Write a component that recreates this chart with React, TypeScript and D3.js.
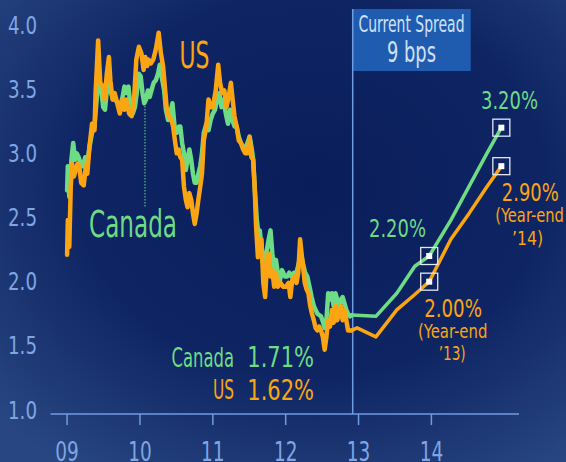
import React from "react";
import * as d3 from "d3";

const W = 566;
const H = 462;

// Canada 10-year yield (decimal year, %)
const canadaHistory: [number, number][] = [
  [2009.0, 2.71], [2009.01, 2.9], [2009.03, 2.66], [2009.059, 2.95], [2009.084, 3.08], [2009.109, 2.95],
  [2009.134, 3.0], [2009.158, 2.97], [2009.188, 2.92], [2009.218, 2.9], [2009.248, 2.97], [2009.277, 2.92],
  [2009.307, 3.05], [2009.342, 3.16], [2009.376, 3.21], [2009.406, 3.42], [2009.431, 3.57], [2009.465, 3.52],
  [2009.495, 3.36], [2009.52, 3.34], [2009.545, 3.49], [2009.574, 3.57], [2009.604, 3.47], [2009.634, 3.42],
  [2009.663, 3.42], [2009.693, 3.39], [2009.723, 3.36], [2009.762, 3.44], [2009.787, 3.52], [2009.812, 3.47],
  [2009.842, 3.52], [2009.871, 3.36], [2009.901, 3.31], [2009.931, 3.36], [2009.96, 3.49], [2009.985, 3.62],
  [2010.01, 3.6], [2010.035, 3.47], [2010.059, 3.39], [2010.084, 3.42], [2010.109, 3.49], [2010.134, 3.44],
  [2010.158, 3.49], [2010.188, 3.55], [2010.218, 3.57], [2010.248, 3.62], [2010.272, 3.69], [2010.297, 3.6],
  [2010.332, 3.49], [2010.356, 3.34], [2010.386, 3.26], [2010.416, 3.31], [2010.446, 3.39], [2010.475, 3.21],
  [2010.505, 3.16], [2010.535, 3.21], [2010.554, 3.21], [2010.579, 3.08], [2010.604, 3.0], [2010.629, 2.87],
  [2010.653, 2.95], [2010.678, 3.03], [2010.703, 2.95], [2010.728, 2.84], [2010.752, 2.77], [2010.777, 2.77],
  [2010.802, 2.84], [2010.827, 2.9], [2010.851, 3.0], [2010.876, 3.16], [2010.911, 3.23], [2010.941, 3.18],
  [2010.97, 3.26], [2011.0, 3.31], [2011.03, 3.34], [2011.059, 3.42], [2011.089, 3.47], [2011.119, 3.36],
  [2011.149, 3.42], [2011.178, 3.31], [2011.208, 3.23], [2011.238, 3.34], [2011.267, 3.26], [2011.297, 3.21],
  [2011.327, 3.21], [2011.356, 3.13], [2011.386, 3.08], [2011.416, 3.05], [2011.446, 3.03], [2011.475, 3.08],
  [2011.505, 3.13], [2011.53, 3.05], [2011.554, 2.95], [2011.574, 2.74], [2011.604, 2.48], [2011.624, 2.38],
  [2011.644, 2.4], [2011.668, 2.27], [2011.693, 2.12], [2011.718, 2.2], [2011.743, 2.25], [2011.767, 2.33],
  [2011.792, 2.4], [2011.817, 2.22], [2011.842, 2.09], [2011.866, 2.17], [2011.891, 2.07], [2011.921, 2.01],
  [2011.95, 2.09], [2011.99, 2.04], [2012.02, 2.04], [2012.05, 2.07], [2012.079, 2.04], [2012.114, 2.07],
  [2012.149, 2.07], [2012.178, 2.14], [2012.208, 2.22], [2012.238, 2.14], [2012.267, 2.07], [2012.297, 2.04],
  [2012.327, 1.96], [2012.356, 1.88], [2012.386, 1.81], [2012.411, 1.78], [2012.436, 1.75], [2012.46, 1.74],
  [2012.485, 1.73], [2012.51, 1.69], [2012.535, 1.64], [2012.559, 1.7], [2012.584, 1.91], [2012.609, 1.86],
  [2012.634, 1.91], [2012.658, 1.81], [2012.683, 1.91], [2012.708, 1.86], [2012.733, 1.81], [2012.757, 1.86],
  [2012.782, 1.88], [2012.807, 1.83], [2012.832, 1.78], [2012.856, 1.75], [2012.881, 1.73], [2012.906, 1.74],
];

// US 10-year yield (decimal year, %)
const usHistory: [number, number][] = [
  [2009.0, 2.21], [2009.01, 2.48], [2009.03, 2.27], [2009.05, 2.74], [2009.069, 2.92], [2009.094, 2.82],
  [2009.119, 2.87], [2009.144, 2.92], [2009.168, 2.9], [2009.193, 2.77], [2009.228, 2.75], [2009.257, 2.9],
  [2009.277, 2.84], [2009.307, 3.05], [2009.342, 3.23], [2009.376, 3.18], [2009.391, 3.47], [2009.426, 3.88],
  [2009.455, 3.55], [2009.49, 3.52], [2009.515, 3.42], [2009.545, 3.62], [2009.574, 3.75], [2009.594, 3.57],
  [2009.624, 3.42], [2009.653, 3.47], [2009.688, 3.39], [2009.723, 3.31], [2009.762, 3.42], [2009.787, 3.34],
  [2009.812, 3.42], [2009.851, 3.31], [2009.886, 3.29], [2009.921, 3.44], [2009.95, 3.73], [2009.985, 3.83],
  [2010.02, 3.78], [2010.05, 3.65], [2010.074, 3.75], [2010.099, 3.68], [2010.119, 3.73], [2010.149, 3.7],
  [2010.183, 3.73], [2010.218, 3.81], [2010.257, 3.94], [2010.287, 3.78], [2010.317, 3.68], [2010.337, 3.55],
  [2010.366, 3.36], [2010.396, 3.29], [2010.431, 3.26], [2010.455, 3.21], [2010.48, 3.1], [2010.505, 3.0],
  [2010.53, 3.03], [2010.554, 2.97], [2010.579, 2.95], [2010.604, 2.74], [2010.629, 2.64], [2010.653, 2.58],
  [2010.678, 2.69], [2010.703, 2.64], [2010.728, 2.53], [2010.752, 2.45], [2010.777, 2.53], [2010.802, 2.64],
  [2010.827, 2.74], [2010.851, 2.84], [2010.876, 3.1], [2010.911, 3.21], [2010.941, 3.42], [2010.97, 3.36],
  [2011.0, 3.36], [2011.04, 3.49], [2011.074, 3.69], [2011.099, 3.55], [2011.129, 3.47], [2011.158, 3.49],
  [2011.188, 3.36], [2011.218, 3.44], [2011.248, 3.55], [2011.272, 3.42], [2011.297, 3.29], [2011.327, 3.21],
  [2011.356, 3.1], [2011.386, 3.08], [2011.416, 3.03], [2011.446, 3.0], [2011.475, 3.0], [2011.505, 3.13],
  [2011.53, 2.97], [2011.554, 2.95], [2011.574, 2.74], [2011.594, 2.43], [2011.619, 2.19], [2011.644, 2.22],
  [2011.668, 2.33], [2011.693, 1.99], [2011.718, 1.88], [2011.743, 2.14], [2011.767, 2.22], [2011.792, 2.04],
  [2011.817, 2.09], [2011.842, 1.96], [2011.866, 2.07], [2011.891, 1.96], [2011.931, 1.99], [2011.965, 1.96],
  [2012.0, 1.96], [2012.04, 1.99], [2012.064, 1.88], [2012.089, 2.01], [2012.119, 2.04], [2012.149, 1.99],
  [2012.173, 2.07], [2012.198, 2.33], [2012.218, 2.22], [2012.238, 2.12], [2012.262, 1.99], [2012.287, 1.94],
  [2012.312, 1.91], [2012.337, 1.81], [2012.361, 1.75], [2012.386, 1.7], [2012.411, 1.64], [2012.436, 1.62],
  [2012.46, 1.65], [2012.485, 1.62], [2012.51, 1.57], [2012.535, 1.47], [2012.559, 1.57], [2012.584, 1.7],
  [2012.609, 1.65], [2012.634, 1.78], [2012.658, 1.68], [2012.683, 1.81], [2012.708, 1.7], [2012.733, 1.75],
  [2012.757, 1.81], [2012.782, 1.7], [2012.807, 1.78], [2012.832, 1.7], [2012.856, 1.62], [2012.881, 1.62],
  [2012.906, 1.62],
];

const canadaForecast: [number, number][] = [
  [2012.906, 1.74], [2013.238, 1.73], [2013.525, 1.91], [2013.772, 2.12], [2013.97, 2.2],
  [2014.267, 2.48], [2014.515, 2.74], [2014.762, 3.0], [2014.96, 3.2],
];
const usForecast: [number, number][] = [
  [2012.906, 1.62], [2012.98, 1.64], [2013.238, 1.57], [2013.525, 1.78], [2013.772, 1.9], [2013.97, 2.0],
  [2014.267, 2.33], [2014.515, 2.53], [2014.762, 2.74], [2014.96, 2.9],
];

const canadaMarkers: [number, number][] = [[2013.97, 2.2], [2014.96, 3.2]];
const usMarkers: [number, number][] = [[2013.97, 2.0], [2014.96, 2.9]];

const yTicks = [1.0, 1.5, 2.0, 2.5, 3.0, 3.5, 4.0];
const xTicks = [2009, 2010, 2011, 2012, 2013, 2014];
const xTickLabels = ["09", "10", "11", "12", "13", "14"];
const currentDate = 2012.92;

const GREEN = "#6ddc85";
const ORANGE = "#fba512";
const AXIS = "#6f9be0";
const LABEL = "#7fa6e3";
const FONT = "'Liberation Sans Narrow','DejaVu Sans Condensed','Open Sans',sans-serif";

type TProps = {
  x: number; y: number; size: number; fill: string; len?: number;
  anchor?: "start" | "middle" | "end"; children: React.ReactNode;
};
const T = ({ x, y, size, fill, len, anchor = "start", children }: TProps) => (
  <text
    x={x}
    y={y}
    fontSize={size}
    fill={fill}
    textAnchor={anchor}
    fontFamily={FONT}
    textLength={len}
    lengthAdjust={len ? "spacingAndGlyphs" : undefined}
  >
    {children}
  </text>
);

export default function App() {
  const x = d3.scaleLinear().domain([2009, 2014]).range([67.1, 431.4]);
  const y = d3.scaleLinear().domain([1, 4]).range([410, 25]);
  const line = d3
    .line<[number, number]>()
    .x((d) => x(d[0]))
    .y((d) => y(d[1]));

  const cx = x(currentDate);
  const marker = (d: [number, number], i: number) => (
    <g key={i}>
      <rect x={x(d[0]) - 8.5} y={y(d[1]) - 8.5} width={17} height={17} fill="none" stroke="#e4e9f2" strokeWidth={1.3} />
      <rect x={x(d[0]) - 3} y={y(d[1]) - 3} width={6} height={6} fill="#ffffff" />
    </g>
  );

  return (
    <svg width={W} height={H} style={{ position: "absolute", left: 0, top: 0 }}>
      <defs>
        <radialGradient id="bg" cx="0.55" cy="0.4" r="0.75">
          <stop offset="0" stopColor="#0a1d5b" />
          <stop offset="0.55" stopColor="#0f2563" />
          <stop offset="1" stopColor="#284782" />
        </radialGradient>
      </defs>
      <rect x={0} y={0} width={W} height={H} fill="url(#bg)" />

      {/* y tick labels */}
      {yTicks.map((v) => (
        <T key={v} x={37} y={y(v) + 8.5} size={24} fill={LABEL} anchor="end" len={29}>
          {v.toFixed(1)}
        </T>
      ))}

      {/* x axis */}
      <line x1={50.5} x2={519} y1={414} y2={414} stroke={AXIS} strokeWidth={1.5} />
      {xTicks.map((t, i) => (
        <g key={t}>
          <line x1={x(t)} x2={x(t)} y1={414} y2={425} stroke={AXIS} strokeWidth={1.5} />
          <T x={x(t)} y={461} size={27} fill={LABEL} anchor="middle" len={23.5}>
            {xTickLabels[i]}
          </T>
        </g>
      ))}

      {/* current date line and box */}
      <rect x={cx} y={9} width={118} height={62} fill="#1f5cb0" />
      <line x1={cx} x2={cx} y1={9} y2={414} stroke={AXIS} strokeWidth={1.5} />
      <T x={411.5} y={32} size={23} fill="#cfe0f7" anchor="middle" len={106}>Current Spread</T>
      <T x={411.5} y={61.7} size={28} fill="#cfe0f7" anchor="middle" len={49}>9 bps</T>

      {/* dotted pointer for Canada label */}
      <line x1={145} x2={145} y1={106} y2={207} stroke={GREEN} strokeWidth={1} strokeDasharray="1.5 1.5" />

      {/* lines */}
      <path d={line(canadaForecast) || ""} fill="none" stroke={GREEN} strokeWidth={3.5} strokeLinejoin="round" strokeLinecap="round" />
      <path d={line(usForecast) || ""} fill="none" stroke={ORANGE} strokeWidth={3.5} strokeLinejoin="round" strokeLinecap="round" />
      <path d={line(canadaHistory) || ""} fill="none" stroke={GREEN} strokeWidth={4.5} strokeLinejoin="round" strokeLinecap="round" />
      <path d={line(usHistory) || ""} fill="none" stroke={ORANGE} strokeWidth={4.5} strokeLinejoin="round" strokeLinecap="round" />

      {canadaMarkers.map(marker)}
      {usMarkers.map((d, i) => marker(d, i + 10))}

      {/* series labels */}
      <T x={179.5} y={68} size={37} fill={ORANGE} len={30}>US</T>
      <T x={89} y={237} size={37} fill={GREEN} len={88}>Canada</T>

      <T x={234} y={366.7} size={26} fill={GREEN} anchor="end" len={62.5}>Canada</T>
      <T x={247.3} y={367} size={28} fill={GREEN} len={66.8}>1.71%</T>
      <T x={234} y={399} size={26} fill={ORANGE} anchor="end" len={21}>US</T>
      <T x={247.3} y={400} size={28} fill={ORANGE} len={66.8}>1.62%</T>

      {/* forecast labels */}
      <T x={509.5} y={109.3} size={25} fill={GREEN} anchor="middle" len={57}>3.20%</T>
      <T x={530.3} y={201} size={24} fill={ORANGE} anchor="middle" len={57}>2.90%</T>
      <T x={529.6} y={222} size={19} fill={ORANGE} anchor="middle" len={68.7}>(Year-end</T>
      <T x={527.5} y={245} size={20} fill={ORANGE} anchor="middle" len={31}>’14)</T>

      <T x={397.5} y={237.3} size={25} fill={GREEN} anchor="middle" len={57}>2.20%</T>
      <T x={453.1} y={316.7} size={24} fill={ORANGE} anchor="middle" len={57.8}>2.00%</T>
      <T x={452.7} y={338} size={19} fill={ORANGE} anchor="middle" len={69.3}>(Year-end</T>
      <T x={452.2} y={360} size={20} fill={ORANGE} anchor="middle" len={27}>’13)</T>
    </svg>
  );
}
